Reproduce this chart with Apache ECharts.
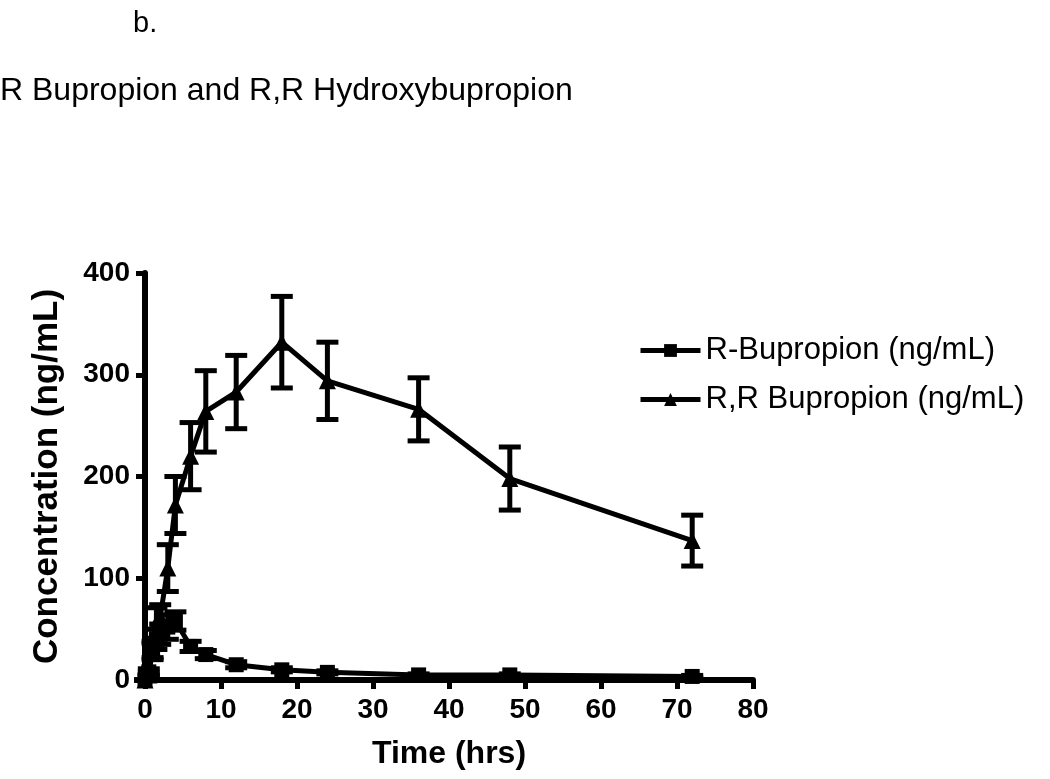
<!DOCTYPE html>
<html>
<head>
<meta charset="utf-8">
<script src="https://cdn.jsdelivr.net/npm/echarts@6/dist/echarts.min.js"></script>
<style>html,body{margin:0;padding:0;background:#fff;}#c{width:1050px;height:779px;}</style>
</head>
<body>
<div id="c"></div>
<script>
var times = [0, 0.5, 1, 1.5, 2, 3, 4, 6, 8, 12, 18, 24, 36, 48, 72];
var rBupMean = [0, 8, 28, 40, 45, 52, 58, 33, 25, 15, 10, 7.5, 5, 5, 3.5];
var rBupErr  = [0, 3, 8, 10, 10, 12, 9, 5, 4, 3, 2, 1.5, 1, 1, 1];
var rrMean   = [0, 5, 30, 56, 62, 110, 172, 220, 264, 283, 332, 294, 266, 198, 137];
var rrErr    = [0, 2, 8, 15, 12, 23, 28, 33, 40, 36, 45, 38, 31, 31, 25];
var xTicks = [0, 10, 20, 30, 40, 50, 60, 70, 80];
var yTicks = [0, 100, 200, 300, 400];
var seriesNames = ['R-Bupropion (ng/mL)', 'R,R Bupropion (ng/mL)'];

function pairs(xs, ys){ return xs.map(function(x,i){ return [x, ys[i]]; }); }
function errData(xs, m, e){ return xs.map(function(x,i){ return [x, m[i]-e[i], m[i]+e[i]]; }); }

function errRender(params, api){
  var x = api.value(0), lo = api.value(1), hi = api.value(2);
  var pLo = api.coord([x, lo]), pHi = api.coord([x, hi]);
  var cap = 11;
  var st = {stroke:'#000', lineWidth:5, fill:null};
  return {type:'group', children:[
    {type:'line', shape:{x1:pLo[0], y1:pLo[1], x2:pHi[0], y2:pHi[1]}, style:st},
    {type:'line', shape:{x1:pHi[0]-cap, y1:pHi[1], x2:pHi[0]+cap, y2:pHi[1]}, style:st},
    {type:'line', shape:{x1:pLo[0]-cap, y1:pLo[1], x2:pLo[0]+cap, y2:pLo[1]}, style:st}
  ]};
}

var chart = echarts.init(document.getElementById('c'));
var font = 'Liberation Sans, Arial, sans-serif';
chart.setOption({
  animation:false,
  backgroundColor:'#fff',
  title:[
    {text:'b.', left:128, top:4, textStyle:{fontFamily:font, fontWeight:'normal', fontSize:29, color:'#000'}},
    {text:'R Bupropion and R,R Hydroxybupropion', left:-5, top:70, textStyle:{fontFamily:font, fontWeight:'normal', fontSize:32, color:'#000'}}
  ],
  legend:{
    left:633, top:330, orient:'vertical', itemWidth:60, itemHeight:16, itemGap:18,
    data:seriesNames,
    lineStyle:{width:5, color:'#000'},
    textStyle:{fontFamily:font, fontSize:31, color:'#000'}
  },
  grid:{left:145, right:297, top:273, bottom:99, containLabel:false},
  xAxis:{
    type:'value', min:0, max:80, interval:10,
    name:'Time (hrs)', nameLocation:'middle', nameGap:58,
    nameTextStyle:{fontFamily:font, fontWeight:'bold', fontSize:32, color:'#000'},
    axisLine:{show:true, onZero:false, lineStyle:{color:'#000', width:6}},
    axisTick:{show:true, length:9, lineStyle:{color:'#000', width:5}},
    axisLabel:{margin:16, fontFamily:font, fontWeight:'bold', fontSize:28, color:'#000'},
    splitLine:{show:false}
  },
  yAxis:{
    type:'value', min:0, max:400, interval:100,
    name:'Concentration (ng/mL)', nameLocation:'middle', nameGap:80,
    nameTextStyle:{fontFamily:font, fontWeight:'bold', fontSize:35, color:'#000'},
    axisLine:{show:true, onZero:false, lineStyle:{color:'#000', width:6}},
    axisTick:{show:true, length:9, lineStyle:{color:'#000', width:5}},
    axisLabel:{margin:15, fontFamily:font, fontWeight:'bold', fontSize:28, color:'#000'},
    splitLine:{show:false}
  },
  series:[
    {type:'custom', name:'errA', renderItem:errRender, data:errData(times, rBupMean, rBupErr), z:3, silent:true},
    {type:'custom', name:'errB', renderItem:errRender, data:errData(times, rrMean, rrErr), z:3, silent:true},
    {type:'line', name:seriesNames[0], data:pairs(times, rBupMean), symbol:'rect', symbolSize:15,
     lineStyle:{color:'#000', width:5}, itemStyle:{color:'#000'}, z:4},
    {type:'line', name:seriesNames[1], data:pairs(times, rrMean), symbol:'triangle', symbolSize:17,
     lineStyle:{color:'#000', width:5}, itemStyle:{color:'#000'}, z:4}
  ]
});
</script>
</body>
</html>
